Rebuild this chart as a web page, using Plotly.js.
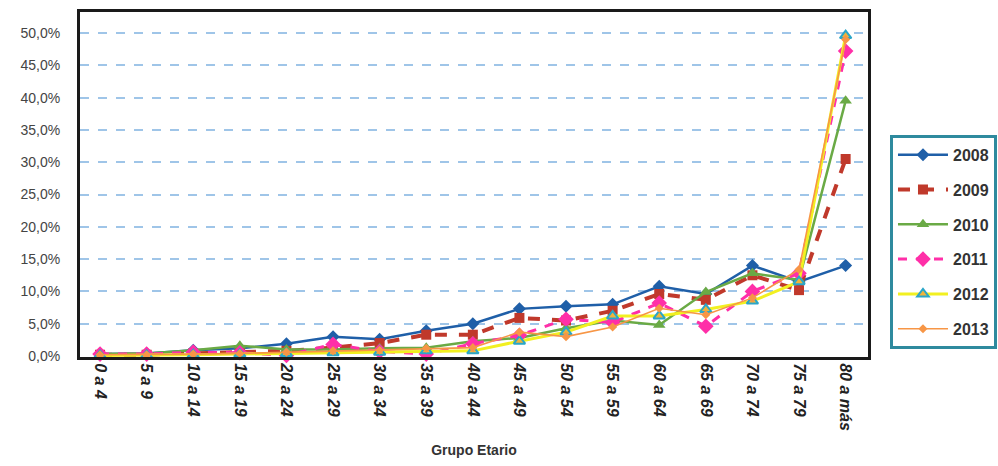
<!DOCTYPE html>
<html>
<head>
<meta charset="utf-8">
<script src="https://cdn.plot.ly/plotly-3.0.1.min.js"></script>
<style>
  html, body { margin: 0; padding: 0; background: #ffffff; }
  #chart { width: 998px; height: 466px; }
</style>
</head>
<body>
<div id="chart"></div>
<script>
// Categories (age groups)
const categories = ["0 a 4","5 a 9","10 a 14","15 a 19","20 a 24","25 a 29","30 a 34","35 a 39","40 a 44","45 a 49","50 a 54","55 a 59","60 a 64","65 a 69","70 a 74","75 a 79","80 a más"];

// Series values (percent)
const s2008 = [0.3, 0.4, 0.9, 1.2, 1.9, 3.0, 2.6, 3.9, 5.0, 7.3, 7.7, 8.0, 10.8, 9.6, 14.0, 11.5, 14.0];
const s2009 = [0.2, 0.2, 0.4, 0.6, 0.8, 1.3, 2.0, 3.3, 3.3, 5.9, 5.5, 7.0, 9.6, 8.7, 12.5, 10.2, 30.5];
const s2010 = [0.3, 0.4, 0.9, 1.6, 1.0, 1.0, 1.2, 1.3, 2.3, 2.8, 4.3, 5.5, 4.8, 9.9, 12.8, 11.8, 39.5];
const s2011 = [0.3, 0.3, 0.6, 0.5, 0.1, 1.8, 0.7, 0.3, 1.9, 3.2, 5.7, 5.2, 8.2, 4.6, 10.0, 12.8, 47.2];
const s2012 = [0.1, 0.1, 0.2, 0.3, 0.4, 0.5, 0.6, 0.8, 0.8, 2.3, 3.7, 6.2, 6.2, 7.2, 8.5, 11.5, 49.6];
const s2013 = [0.2, 0.2, 0.3, 0.4, 0.6, 0.8, 0.9, 1.2, 1.3, 3.7, 3.0, 4.5, 7.4, 6.4, 9.0, 13.4, 49.0];

const seriesNames = ["2008","2009","2010","2011","2012","2013"];
const yTicks = [0, 5, 10, 15, 20, 25, 30, 35, 40, 45, 50];
const yTickLabels = ["0,0%","5,0%","10,0%","15,0%","20,0%","25,0%","30,0%","35,0%","40,0%","45,0%","50,0%"];

const styles = [
  {line:{color:'#1f5fa8', width:2.5}, marker:{symbol:'diamond', size:10, color:'#1f5fa8'}},
  {line:{color:'#c0392b', width:4, dash:'dash'}, marker:{symbol:'square', size:10, color:'#c0392b'}},
  {line:{color:'#6aaa45', width:2.5}, marker:{symbol:'triangle-up', size:11, color:'#6aaa45'}},
  {line:{color:'#ff2fa8', width:3, dash:'dash'}, marker:{symbol:'diamond', size:12, color:'#ff2fa8'}},
  {line:{color:'#f2f020', width:3}, marker:{symbol:'triangle-up', size:10, color:'#f0b43c', line:{color:'#2aa6c8', width:2}}},
  {line:{color:'#f79646', width:1.6}, marker:{symbol:'diamond', size:7, color:'#f79646'}}
];

const allSeries = [s2008, s2009, s2010, s2011, s2012, s2013];
const traces = allSeries.map((vals, i) => ({
  type: 'scatter',
  mode: 'lines+markers',
  name: seriesNames[i],
  legendgroup: 'g' + i,
  x: categories,
  y: vals,
  line: styles[i].line,
  marker: styles[i].marker,
  cliponaxis: false
}));

const layout = {
  width: 998,
  height: 466,
  paper_bgcolor: '#ffffff',
  plot_bgcolor: '#ffffff',
  font: {family: 'Liberation Sans, Arial, sans-serif', size: 13, color: '#333'},
  margin: {l: 80, r: 130, t: 12, b: 109, autoexpand: false},
  xaxis: {
    type: 'category',
    range: [-0.43, 16.48],
    tickangle: 90,
    ticks: '',
    tickfont: {family: 'Liberation Sans, Arial, sans-serif', size: 16, color: '#222', weight: 'bold', style: 'italic'},
    showgrid: false,
    zeroline: false,
    showline: true,
    linecolor: '#1a1a1a',
    linewidth: 3,
    mirror: true,
    automargin: false,
    title: {text: 'Grupo Etario', font: {size: 14, color: '#333', weight: 'bold'}, standoff: 16}
  },
  yaxis: {
    range: [-0.15, 53.25],
    tickmode: 'array',
    tickvals: yTicks,
    ticktext: yTickLabels,
    ticks: '',
    ticklabelstandoff: 14,
    tickfont: {size: 14, color: '#444'},
    showgrid: true,
    gridcolor: '#9fc5e8',
    gridwidth: 2,
    griddash: 'dash',
    zeroline: false,
    showline: true,
    linecolor: '#1a1a1a',
    linewidth: 3,
    mirror: true,
    automargin: false
  },
  showlegend: true,
  legend: {
    x: 1.0279,
    y: 0.644,
    xanchor: 'left',
    yanchor: 'top',
    bordercolor: '#2e8a9e',
    borderwidth: 3,
    bgcolor: '#ffffff',
    traceorder: 'grouped',
    tracegroupgap: 11,
    itemwidth: 50,
    font: {size: 16, color: '#333', weight: 'bold'}
  }
};

Plotly.newPlot('chart', traces, layout, {displayModeBar: false, staticPlot: true});
</script>
</body>
</html>
